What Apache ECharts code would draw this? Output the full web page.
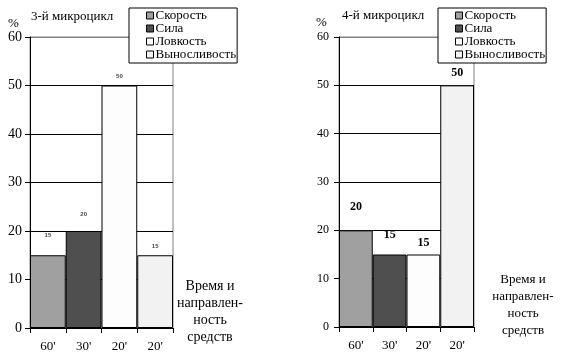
<!DOCTYPE html>
<html><head><meta charset="utf-8">
<script src="https://cdn.jsdelivr.net/npm/echarts@6/dist/echarts.min.js"></script>
<style>html,body{margin:0;padding:0;background:#fff}#c{width:570px;height:360px}</style>
</head><body><div id="c"></div>
<script>
// ---- data ----
var categories = ["60'", "30'", "20'", "20'"];
var seriesNames = ["Скорость", "Сила", "Ловкость", "Выносливость"];
var cycle3Values = [15, 20, 50, 15];
var cycle4Values = [20, 15, 15, 50];
var cycleTitles = ["3-й микроцикл", "4-й микроцикл"];
var yTickValues = [0, 10, 20, 30, 40, 50, 60];
var xAxisTitle = "Время и\nнаправлен-\nность\nсредств";

// ---- style ----
var colors = ['#a0a0a0', '#4f4f4f', '#fdfdfd', '#f2f2f2'];
var labelDist = [17, 14, 6, 6];
var SERIF = '"Liberation Serif", "Times New Roman", serif';

var chart = echarts.init(document.getElementById('c'), null, {renderer: 'canvas'});

function buildSeries(values, gi, small) {
  return seriesNames.map(function (name, i) {
    var d = categories.map(function (_, j) { return j === i ? values[i] : '-'; });
    return {
      type: 'bar', name: name, stack: 'g' + gi,
      xAxisIndex: gi, yAxisIndex: gi,
      barWidth: '100%',
      data: d,
      itemStyle: {color: colors[i], borderColor: '#000', borderWidth: 1},
      label: {
        show: true, position: 'top', distance: labelDist[i],
        fontSize: small ? 6 : 12, fontWeight: 'bold',
        fontFamily: small ? 'Arial, sans-serif' : SERIF,
        color: small ? '#444' : '#000'
      }
    };
  });
}

function yAxis(gi, fs, margin) {
  return {
    type: 'value', gridIndex: gi, min: 0, max: 60, interval: 10,
    axisLine: {show: true, lineStyle: {color: '#000', width: 1}},
    axisTick: {show: true, length: 5, lineStyle: {color: '#000'}},
    axisLabel: {fontFamily: SERIF, fontSize: fs, color: '#000', margin: margin,
      formatter: function (v) { return yTickValues.indexOf(v) >= 0 ? String(v) : ''; }},
    splitLine: {show: true, lineStyle: {color: ['#000', '#000', '#000', '#000', '#000', '#000', '#808080'], width: 1}}
  };
}
function xAxis(gi, fs) {
  return {
    type: 'category', gridIndex: gi, data: categories,
    axisLine: {show: true, lineStyle: {color: '#000', width: 1}},
    axisTick: {show: true, length: 5, alignWithLabel: false, lineStyle: {color: '#000'}},
    axisLabel: {fontFamily: SERIF, fontSize: fs, color: '#000', margin: 12, interval: 0},
    splitLine: {show: false}
  };
}
function legend(left, top) {
  return {
    orient: 'vertical', left: left, top: top,
    data: seriesNames.map(function (n, i) { return {name: n, itemStyle: {color: colors[i], borderColor: '#000', borderWidth: 1}}; }),
    icon: 'rect', itemWidth: 7, itemHeight: 7, itemGap: 0,
    padding: [1, 1, 2, 17],
    borderColor: '#000', borderWidth: 1, backgroundColor: '#fff',
    selectedMode: false,
    textStyle: {fontFamily: SERIF, fontSize: 13, color: '#000', lineHeight: 12.4, padding: [0, 0, 0, -3]}
  };
}

var option = {
  animation: false,
  backgroundColor: '#fff',
  grid: [
    {left: 30, right: 397, top: 37, bottom: 32, show: true, borderColor: '#808080', borderWidth: 1, backgroundColor: 'transparent'},
    {left: 339, right: 96, top: 37, bottom: 33, show: true, borderColor: '#808080', borderWidth: 1, backgroundColor: 'transparent'}
  ],
  xAxis: [xAxis(0, 13), xAxis(1, 13)],
  yAxis: [yAxis(0, 14, 8), yAxis(1, 12, 10)],
  legend: [legend(129, 8), legend(438, 8)],
  series: buildSeries(cycle3Values, 0, true).concat(buildSeries(cycle4Values, 1, false)),
  graphic: [
    {type: 'text', left: 31, top: 10, style: {text: cycleTitles[0], font: '13px ' + SERIF, fill: '#000'}},
    {type: 'text', left: 8, top: 17, style: {text: '%', font: '13px ' + SERIF, fill: '#000'}},
    {type: 'text', left: 342, top: 9, style: {text: cycleTitles[1], font: '13px ' + SERIF, fill: '#000'}},
    {type: 'text', left: 316, top: 16, style: {text: '%', font: '13px ' + SERIF, fill: '#000'}},
    {type: 'text', x: 210, y: 278, style: {text: xAxisTitle, font: '14px ' + SERIF, fill: '#000', align: 'center', lineHeight: 17}},
    {type: 'text', x: 523, y: 271, style: {text: xAxisTitle, font: '13px ' + SERIF, fill: '#000', align: 'center', lineHeight: 17}}
  ]
};
chart.setOption(option);
</script></body></html>
